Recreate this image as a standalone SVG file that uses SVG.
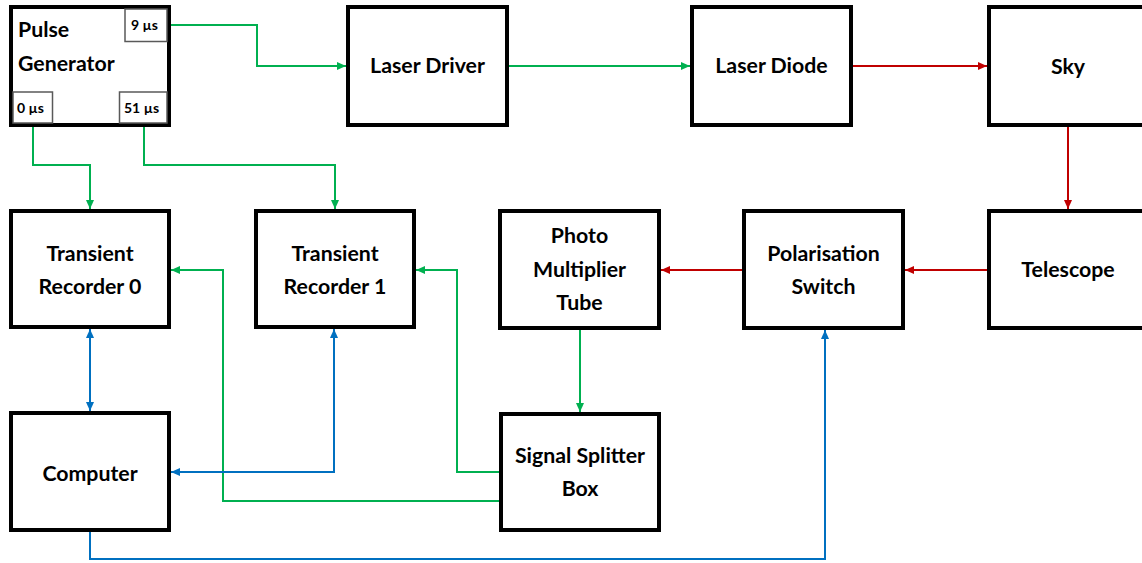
<svg xmlns="http://www.w3.org/2000/svg" width="1142" height="563" viewBox="0 0 1142 563">
  <defs>
    <style>
      .box { fill: #ffffff; stroke: #000000; stroke-width: 4; }
      .port { fill: #ffffff; stroke: #595959; stroke-width: 1.5; }
      .label { font-family: "Lato", "Liberation Sans", sans-serif; font-weight: 700; font-size: 21.3px; fill: #000000; text-anchor: middle; }
      .left { text-anchor: start; }
      .small { font-size: 14px; text-anchor: start; }
      .wire { fill: none; stroke-width: 2; }
      .green { stroke: #00B050; }
      .red { stroke: #C00000; }
      .blue { stroke: #0070C0; }
    </style>
    <marker id="ah-green" markerWidth="9" markerHeight="8" refX="9" refY="4" orient="auto-start-reverse" markerUnits="userSpaceOnUse">
      <path d="M0,0 L9,4 L0,8 z" fill="#00B050"/>
    </marker>
    <marker id="ah-red" markerWidth="9" markerHeight="8" refX="9" refY="4" orient="auto-start-reverse" markerUnits="userSpaceOnUse">
      <path d="M0,0 L9,4 L0,8 z" fill="#C00000"/>
    </marker>
    <marker id="ah-blue" markerWidth="9" markerHeight="8" refX="9" refY="4" orient="auto-start-reverse" markerUnits="userSpaceOnUse">
      <path d="M0,0 L9,4 L0,8 z" fill="#0070C0"/>
    </marker>
  </defs>

  <rect width="1142" height="563" fill="#ffffff"/>

  <!-- connectors -->
  <g id="connectors">
    <path class="wire green" d="M171,25 H257 V66 H346" marker-end="url(#ah-green)"/>
    <path class="wire green" d="M509,66 H690" marker-end="url(#ah-green)"/>
    <path class="wire red" d="M853,66 H987" marker-end="url(#ah-red)"/>
    <path class="wire red" d="M1068,127 V209" marker-end="url(#ah-red)"/>
    <path class="wire red" d="M987,270 H905" marker-end="url(#ah-red)"/>
    <path class="wire red" d="M742,270 H661" marker-end="url(#ah-red)"/>
    <path class="wire green" d="M580,330 V412" marker-end="url(#ah-green)"/>
    <path class="wire green" d="M499,472 H457 V270 H416" marker-end="url(#ah-green)"/>
    <path class="wire green" d="M499,501 H223 V270 H171" marker-end="url(#ah-green)"/>
    <path class="wire green" d="M33,125 V165 H90 V209" marker-end="url(#ah-green)"/>
    <path class="wire green" d="M144,125 V165 H335 V209" marker-end="url(#ah-green)"/>
    <path class="wire blue" d="M90,329 V411" marker-start="url(#ah-blue)" marker-end="url(#ah-blue)"/>
    <path class="wire blue" d="M171,472 H334 V329" marker-start="url(#ah-blue)" marker-end="url(#ah-blue)"/>
    <path class="wire blue" d="M90,532 V559 H825 V330" marker-end="url(#ah-blue)"/>
  </g>

  <!-- pulse generator with its three timed outputs -->
  <g id="pulse-generator">
    <rect class="box" x="11" y="7" width="158" height="118"/>
    <rect class="port" x="125" y="9" width="42" height="32.5"/>
    <rect class="port" x="13" y="92" width="39.5" height="31"/>
    <rect class="port" x="119.5" y="92" width="47.5" height="31"/>
    <text class="label left" x="18" y="37">Pulse</text>
    <text class="label left" x="18" y="71">Generator</text>
    <text class="label small" x="131" y="30">9 µs</text>
    <text class="label small" x="17" y="113">0 µs</text>
    <text class="label small" x="124" y="113">51 µs</text>
  </g>

  <g id="laser-driver">
    <rect class="box" x="348" y="7" width="159" height="118"/>
    <text class="label" x="427.5" y="73">Laser Driver</text>
  </g>

  <g id="laser-diode">
    <rect class="box" x="692" y="7" width="159" height="118"/>
    <text class="label" x="771.5" y="73">Laser Diode</text>
  </g>

  <g id="sky">
    <rect class="box" x="989" y="7" width="159" height="118"/>
    <text class="label" x="1068" y="74">Sky</text>
  </g>

  <g id="transient-recorder-0">
    <rect class="box" x="11" y="211" width="158" height="116"/>
    <text class="label" x="90" y="261">Transient</text>
    <text class="label" x="90" y="294">Recorder 0</text>
  </g>

  <g id="transient-recorder-1">
    <rect class="box" x="256" y="211" width="158" height="116"/>
    <text class="label" x="335" y="261">Transient</text>
    <text class="label" x="335" y="294">Recorder 1</text>
  </g>

  <g id="photo-multiplier-tube">
    <rect class="box" x="500" y="211" width="159" height="117"/>
    <text class="label" x="579.5" y="243">Photo</text>
    <text class="label" x="579.5" y="277">Multiplier</text>
    <text class="label" x="579.5" y="310">Tube</text>
  </g>

  <g id="polarisation-switch">
    <rect class="box" x="744" y="211" width="159" height="117"/>
    <text class="label" x="823.5" y="261">Polarisation</text>
    <text class="label" x="823.5" y="294">Switch</text>
  </g>

  <g id="telescope">
    <rect class="box" x="989" y="211" width="159" height="117"/>
    <text class="label" x="1068" y="277">Telescope</text>
  </g>

  <g id="computer">
    <rect class="box" x="11" y="413" width="158" height="117"/>
    <text class="label" x="90" y="481">Computer</text>
  </g>

  <g id="signal-splitter-box">
    <rect class="box" x="501" y="414" width="158" height="116"/>
    <text class="label" x="580" y="463">Signal Splitter</text>
    <text class="label" x="580" y="496">Box</text>
  </g>
</svg>
